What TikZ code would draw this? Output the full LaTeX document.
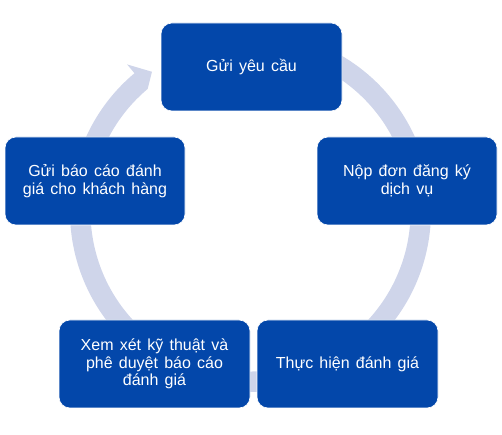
\documentclass[tikz,border=0pt]{standalone}
\usepackage{fontspec}
\setmainfont{Liberation Sans}[WordSpace={1.4}]
\definecolor{boxblue}{HTML}{0347AA}
\definecolor{ringc}{HTML}{CFD5EA}
\tikzset{
  stepbox/.style={rectangle, rounded corners=11pt, fill=boxblue, draw=white, line width=0.6pt,
    text=white, align=center, inner sep=0pt, minimum height=88pt,
    font=\fontsize{16}{17.5}\selectfont},
}
\begin{document}
\begin{tikzpicture}[x=1pt,y=1pt]
\useasboundingbox (0,0) rectangle (502,435);
\coordinate (C) at (250.5,223.5);
% ring arrow
\begin{scope}[shift={(C)}]
\fill[ringc] (130:180.5) arc[start angle=130, end angle=460, radius=180.5]
  -- (460:160) arc[start angle=460, end angle=130, radius=160]
  -- (125.2:171) -- (130:192) -- cycle;
\end{scope}
% boxes
\node[stepbox, minimum width=181pt] (n1) at (251.5,368) {Gửi yêu cầu};
\node[stepbox, minimum width=180pt] (n2) at (407,254) {Nộp đơn đăng ký\\dịch vụ};
\node[stepbox, minimum width=181pt] (n3) at (347.5,71) {Thực hiện đánh giá};
\node[stepbox, minimum width=191pt] (n4) at (154.5,71) {Xem xét kỹ thuật và\\phê duyệt báo cáo\\đánh giá};
\node[stepbox, minimum width=180pt] (n5) at (95,254) {Gửi báo cáo đánh\\giá cho khách hàng};
\end{tikzpicture}
\end{document}
